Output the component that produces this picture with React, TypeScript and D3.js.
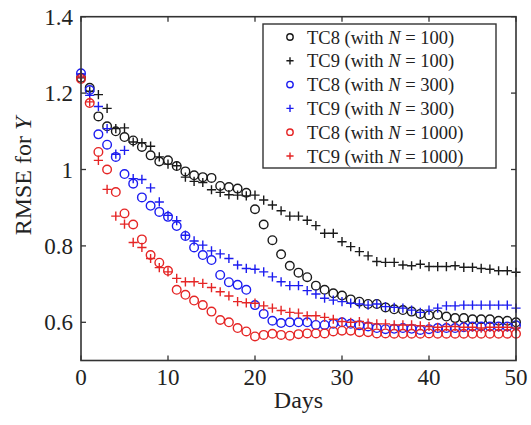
import React from "react";
import * as d3 from "d3";

const days = d3.range(0, 51);

const tc8N100 = [1.24, 1.214, 1.139, 1.113, 1.1, 1.085, 1.076, 1.059, 1.037, 1.021, 1.024, 1.009, 0.995, 0.985, 0.98, 0.978, 0.957, 0.954, 0.95, 0.939, 0.896, 0.856, 0.815, 0.778, 0.748, 0.73, 0.718, 0.696, 0.685, 0.676, 0.67, 0.66, 0.654, 0.648, 0.648, 0.639, 0.634, 0.632, 0.628, 0.622, 0.618, 0.62, 0.615, 0.611, 0.611, 0.608, 0.608, 0.608, 0.604, 0.604, 0.6];
const tc9N100 = [1.24, 1.205, 1.196, 1.16, 1.107, 1.109, 1.072, 1.07, 1.061, 1.033, 1.014, 1.01, 0.98, 0.969, 0.966, 0.947, 0.94, 0.934, 0.933, 0.931, 0.933, 0.92, 0.907, 0.892, 0.878, 0.878, 0.867, 0.853, 0.833, 0.833, 0.811, 0.798, 0.785, 0.774, 0.759, 0.757, 0.757, 0.75, 0.748, 0.752, 0.746, 0.746, 0.746, 0.748, 0.744, 0.744, 0.741, 0.739, 0.735, 0.735, 0.731];
const tc8N300 = [1.252, 1.208, 1.092, 1.065, 1.033, 0.988, 0.963, 0.927, 0.905, 0.889, 0.876, 0.852, 0.826, 0.796, 0.776, 0.763, 0.724, 0.705, 0.698, 0.685, 0.645, 0.622, 0.604, 0.598, 0.6, 0.6, 0.6, 0.593, 0.593, 0.596, 0.6, 0.596, 0.592, 0.589, 0.585, 0.582, 0.583, 0.585, 0.583, 0.58, 0.582, 0.585, 0.585, 0.585, 0.587, 0.589, 0.589, 0.589, 0.589, 0.589, 0.592];
const tc9N300 = [1.25, 1.194, 1.165, 1.107, 1.04, 1.05, 0.976, 0.974, 0.952, 0.915, 0.88, 0.866, 0.828, 0.813, 0.802, 0.787, 0.779, 0.767, 0.75, 0.741, 0.739, 0.732, 0.719, 0.706, 0.696, 0.696, 0.683, 0.674, 0.663, 0.658, 0.654, 0.65, 0.648, 0.645, 0.648, 0.641, 0.639, 0.637, 0.632, 0.626, 0.632, 0.637, 0.643, 0.643, 0.645, 0.645, 0.645, 0.645, 0.645, 0.645, 0.637];
const tc8N1000 = [1.237, 1.174, 1.046, 1.0, 0.941, 0.885, 0.856, 0.817, 0.776, 0.756, 0.735, 0.685, 0.672, 0.657, 0.645, 0.628, 0.606, 0.6, 0.585, 0.576, 0.563, 0.567, 0.57, 0.567, 0.565, 0.569, 0.571, 0.571, 0.571, 0.576, 0.578, 0.578, 0.574, 0.574, 0.571, 0.571, 0.57, 0.57, 0.57, 0.57, 0.571, 0.57, 0.57, 0.57, 0.57, 0.57, 0.57, 0.57, 0.57, 0.57, 0.57];
const tc9N1000 = [1.242, 1.177, 1.024, 0.948, 0.878, 0.857, 0.809, 0.796, 0.767, 0.743, 0.732, 0.715, 0.706, 0.706, 0.702, 0.691, 0.68, 0.669, 0.654, 0.651, 0.65, 0.643, 0.637, 0.631, 0.626, 0.624, 0.617, 0.617, 0.613, 0.608, 0.602, 0.6, 0.602, 0.598, 0.596, 0.596, 0.593, 0.593, 0.593, 0.591, 0.589, 0.587, 0.589, 0.589, 0.587, 0.587, 0.585, 0.587, 0.587, 0.587, 0.585];

const seriesNames = ["TC8", "TC9", "TC8", "TC9", "TC8", "TC9"];
const seriesN = ["100", "100", "300", "300", "1000", "1000"];
const seriesMarkers = ["circle", "plus", "circle", "plus", "circle", "plus"];
const seriesColors = ["#1a1a1a", "#1a1a1a", "#1c1cf0", "#1c1cf0", "#e52525", "#e52525"];
const seriesValues = [tc8N100, tc9N100, tc8N300, tc9N300, tc8N1000, tc9N1000];

const xTicks = [0, 10, 20, 30, 40, 50];
const yTicks = [0.6, 0.8, 1.0, 1.2, 1.4];

const W = 531;
const H = 425;
const left = 81;
const right = 516;
const top = 16.7;
const bottom = 360.5;
const FONT = "'Liberation Serif', 'Times New Roman', serif";

function Marker({ kind, x, y, color, r, s }: { kind: string; x: number; y: number; color: string; r: number; s: number }) {
  if (kind === "circle") {
    return <circle cx={x} cy={y} r={r} fill="none" stroke={color} strokeWidth={1.4} />;
  }
  return (
    <path d={`M${x - s},${y}H${x + s}M${x},${y - s}V${y + s}`} stroke={color} strokeWidth={1.4} fill="none" />
  );
}

export default function App() {
  const x = d3.scaleLinear().domain([0, 50]).range([left, right]);
  const y = d3.scaleLinear().domain([0.5, 1.4]).range([bottom, top]);
  const axisColor = "#333";
  const tickLen = 5;

  const legendX = 263;
  const legendY = 24;
  const legendW = 233;
  const legendH = 144;
  const rowH = 23.8;

  return (
    <svg width={W} height={H} style={{ position: "absolute", left: 0, top: 0, background: "#fff" }} fontFamily={FONT}>
      <rect x={0} y={0} width={W} height={H} fill="#fff" />
      {/* data */}
      {seriesValues.map((vals, si) => (
        <g key={si}>
          {vals.map((v, i) => (
            <Marker key={i} kind={seriesMarkers[si]} x={x(days[i])} y={y(v)} color={seriesColors[si]} r={4.3} s={4.6} />
          ))}
        </g>
      ))}
      {/* frame */}
      <rect x={left} y={top} width={right - left} height={bottom - top} fill="none" stroke={axisColor} strokeWidth={1.6} />
      {xTicks.map((t) => (
        <g key={t}>
          <line x1={x(t)} x2={x(t)} y1={bottom} y2={bottom - tickLen} stroke={axisColor} strokeWidth={1.3} />
          <line x1={x(t)} x2={x(t)} y1={top} y2={top + tickLen} stroke={axisColor} strokeWidth={1.3} />
          <text x={x(t)} y={bottom + 24} textAnchor="middle" fontSize={23} fill="#222">{t}</text>
        </g>
      ))}
      {yTicks.map((t) => (
        <g key={t}>
          <line x1={left} x2={left + tickLen} y1={y(t)} y2={y(t)} stroke={axisColor} strokeWidth={1.3} />
          <line x1={right} x2={right - tickLen} y1={y(t)} y2={y(t)} stroke={axisColor} strokeWidth={1.3} />
          <text x={left - 8} y={y(t) + 8} textAnchor="end" fontSize={23} fill="#222">{d3.format("")(t)}</text>
        </g>
      ))}
      <text x={(left + right) / 2} y={408} textAnchor="middle" fontSize={24} fill="#222">Days</text>
      <text transform={`translate(31,176) rotate(-90)`} textAnchor="middle" fontSize={24} fill="#222">
        RMSE for <tspan fontStyle="italic">Y</tspan>
      </text>
      {/* legend */}
      <rect x={legendX} y={legendY} width={legendW} height={legendH} fill="#fff" stroke={axisColor} strokeWidth={1.4} />
      {seriesNames.map((nm, i) => {
        const cy = legendY + 13 + i * rowH;
        return (
          <g key={i}>
            <Marker kind={seriesMarkers[i]} x={legendX + 27} y={cy} color={seriesColors[i]} r={3.2} s={3.6} />
            <text x={legendX + 44} y={cy + 6.5} fontSize={18.5} fill="#222">
              {nm} (with <tspan fontStyle="italic">N</tspan> = {seriesN[i]})
            </text>
          </g>
        );
      })}
    </svg>
  );
}
